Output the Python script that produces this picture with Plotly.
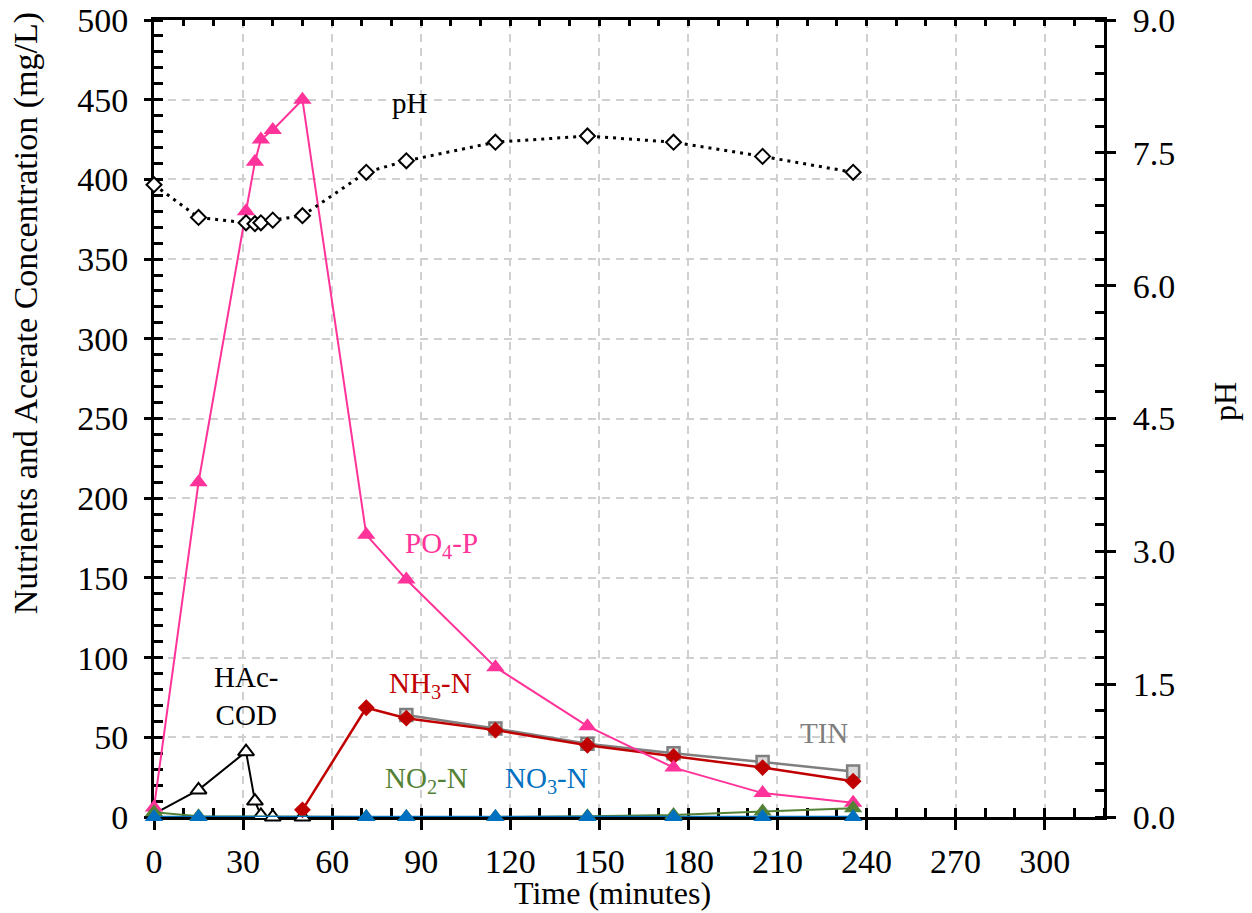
import plotly.graph_objects as go

# ---------------- data ----------------
time_main = [0, 15, 31, 34, 36, 40, 50, 71.5, 85, 115, 146, 175, 205, 235.5]
po4_p = [6, 210, 380, 411, 425, 431, 450, 177, 149, 94, 57, 31, 15, 9]
ph_vals = [7.14, 6.77, 6.71, 6.70, 6.71, 6.74, 6.79, 7.28, 7.41, 7.62, 7.69, 7.62, 7.46, 7.28]

time_hac = [0, 15, 31, 34, 36, 40, 50]
hac_cod = [2, 17, 41, 10, 1, 0, 0]

time_nh3 = [50, 71.5, 85, 115, 146, 175, 205, 235.5]
nh3_n = [4.5, 68.5, 62, 54.5, 45, 38, 31, 22.5]

time_tin = [85, 115, 146, 175, 205, 235.5]
tin = [64, 55.5, 46, 40, 34.5, 28.5]

time_nox = [0, 15, 71.5, 85, 115, 146, 175, 205, 235.5]
no2_n = [3, 0.5, 0, 0, 0, 0.5, 1.2, 3.5, 5.5]
no3_n = [0, 0, 0, 0, 0, 0, 0, 0, 0]

x_ticks = [0, 30, 60, 90, 120, 150, 180, 210, 240, 270, 300]
y_ticks = [0, 50, 100, 150, 200, 250, 300, 350, 400, 450, 500]
ph_ticks = [0.0, 1.5, 3.0, 4.5, 6.0, 7.5, 9.0]

FONT = "Liberation Serif, Times New Roman, serif"
PINK = "#FF3399"
RED = "#C00000"
GRAY = "#7F7F7F"
GREEN = "#548235"
BLUE = "#0070C0"
GRID = "#D0D0D0"

fig = go.Figure()

fig.add_trace(go.Scatter(
    x=time_hac, y=hac_cod, mode="lines+markers", cliponaxis=False,
    line=dict(color="black", width=2),
    marker=dict(symbol="triangle-up", size=14, color="white",
                line=dict(color="black", width=2)),
    showlegend=False))

fig.add_trace(go.Scatter(
    x=time_tin, y=tin, mode="lines+markers", cliponaxis=False,
    line=dict(color=GRAY, width=2.5),
    marker=dict(symbol="square", size=12, color="#D9D9D9",
                line=dict(color=GRAY, width=2.5)),
    showlegend=False))

fig.add_trace(go.Scatter(
    x=time_nh3, y=nh3_n, mode="lines+markers", cliponaxis=False,
    line=dict(color=RED, width=2.5),
    marker=dict(symbol="diamond", size=13, color=RED),
    showlegend=False))

fig.add_trace(go.Scatter(
    x=time_main, y=po4_p, mode="lines+markers", cliponaxis=False,
    line=dict(color=PINK, width=2),
    marker=dict(symbol="triangle-up", size=16, color=PINK),
    showlegend=False))

fig.add_trace(go.Scatter(
    x=time_nox, y=no2_n, mode="lines+markers", cliponaxis=False,
    line=dict(color=GREEN, width=2),
    marker=dict(symbol="triangle-up", size=16, color=GREEN),
    showlegend=False))

fig.add_trace(go.Scatter(
    x=time_nox, y=no3_n, mode="lines+markers", cliponaxis=False,
    line=dict(color=BLUE, width=2.5),
    marker=dict(symbol="triangle-up", size=16, color=BLUE),
    showlegend=False))

fig.add_trace(go.Scatter(
    x=time_main, y=ph_vals, mode="lines+markers", cliponaxis=False,
    yaxis="y2",
    line=dict(color="black", width=3, dash="3px,5px"),
    marker=dict(symbol="diamond", size=11.5, color="white",
                line=dict(color="black", width=2)),
    showlegend=False))

# invisible helper traces so the overlay tick axes render
fig.add_trace(go.Scatter(x=[0], y=[0], xaxis="x2", yaxis="y3", mode="markers",
                         marker=dict(opacity=0), hoverinfo="skip", showlegend=False))
fig.add_trace(go.Scatter(x=[0], y=[0], xaxis="x3", yaxis="y4", mode="markers",
                         marker=dict(opacity=0), hoverinfo="skip", showlegend=False))

tickfont = dict(family=FONT, size=34, color="black")
common = dict(automargin=False, zeroline=False, layer="below traces", tickcolor="black")

# page body has an 8px margin, so the figure is sized/offset to compensate
fig.update_layout(
    width=1244, height=905,
    margin=dict(l=146, r=148, t=12, b=96),
    paper_bgcolor="white", plot_bgcolor="white",
    font=dict(family=FONT, size=29, color="black"),
    xaxis=dict(
        range=[0, 320], tickvals=x_ticks, ticks="outside", ticklen=10, tickwidth=2.5,
        tickfont=tickfont, ticklabelstandoff=2, ticklabeloverflow="allow",
        minor=dict(dtick=10, tick0=0, ticks="inside", ticklen=9, tickwidth=2.5,
                   tickcolor="black", showgrid=False),
        showline=True, linecolor="black", linewidth=3,
        showgrid=True, gridcolor=GRID, gridwidth=1.5, griddash="8px,6px",
        **common,
    ),
    yaxis=dict(
        range=[0, 500], tickvals=y_ticks, ticks="outside", ticklen=7, tickwidth=2.5,
        tickfont=tickfont, ticklabelstandoff=9, ticklabeloverflow="allow",
        minor=dict(dtick=10, tick0=0, ticks="inside", ticklen=9, tickwidth=2.5,
                   tickcolor="black", showgrid=False),
        showline=True, linecolor="black", linewidth=3,
        showgrid=True, gridcolor=GRID, gridwidth=1.5, griddash="8px,6px",
        **common,
    ),
    yaxis2=dict(
        overlaying="y", side="right", anchor="x",
        range=[0, 9], tickvals=ph_ticks, tickformat=".1f", ticks="outside", ticklen=9,
        tickwidth=2.5, tickfont=tickfont, ticklabelstandoff=10, ticklabeloverflow="allow",
        minor=dict(dtick=0.3, tick0=0, ticks="inside", ticklen=9, tickwidth=2.5,
                   tickcolor="black", showgrid=False),
        showline=True, linecolor="black", linewidth=3, showgrid=False,
        **common,
    ),
    xaxis2=dict(
        overlaying="x", side="top", anchor="y3",
        range=[0, 320], dtick=10, tick0=0, ticks="inside", ticklen=6, tickwidth=2.5,
        showticklabels=False, showline=True, linecolor="black", linewidth=3,
        showgrid=False, **common,
    ),
    yaxis3=dict(
        overlaying="y", side="left", anchor="x2",
        range=[0, 500], tickvals=y_ticks, ticks="inside", ticklen=9, tickwidth=2.5,
        showticklabels=False, showline=False, showgrid=False, **common,
    ),
    xaxis3=dict(
        overlaying="x", side="bottom", anchor="y4",
        range=[0, 320], tickvals=x_ticks, ticks="inside", ticklen=9, tickwidth=2.5,
        showticklabels=False, showline=False, showgrid=False, **common,
    ),
    yaxis4=dict(
        overlaying="y", side="right", anchor="x3",
        range=[0, 9], tickvals=ph_ticks, ticks="inside", ticklen=9, tickwidth=2.5,
        showticklabels=False, showline=False, showgrid=False, **common,
    ),
)

# axis titles
fig.add_annotation(text="Time (minutes)", xref="paper", yref="paper", x=0.4826, y=0,
                   yshift=-76, xanchor="center", yanchor="middle", showarrow=False,
                   font=dict(family=FONT, size=32, color="black"))
fig.add_annotation(text="Nutrients and Acerate Concentration (mg/L)", xref="paper",
                   yref="paper", x=0, y=0.632, xshift=-128, textangle=-90,
                   xanchor="center", yanchor="middle", showarrow=False,
                   font=dict(family=FONT, size=34, color="black"))
fig.add_annotation(text="pH", xref="paper", yref="paper", x=1, y=0.5207, xshift=121,
                   textangle=-90, xanchor="center", yanchor="middle", showarrow=False,
                   font=dict(family=FONT, size=32, color="black"))

ann_font = 29
labels = [
    ("pH", 86.3, 448, "black"),
    ("PO<sub>4</sub>-P", 97, 170.6, PINK),
    ("NH<sub>3</sub>-N", 93, 82.8, RED),
    ("HAc-<br>COD", 31, 76.2, "black"),
    ("TIN", 225.6, 52.7, GRAY),
    ("NO<sub>2</sub>-N", 91.7, 23.2, GREEN),
    ("NO<sub>3</sub>-N", 132.3, 23.2, BLUE),
]
for text, xv, yv, col in labels:
    fig.add_annotation(x=xv, y=yv, xref="x", yref="y", text=text, showarrow=False,
                       font=dict(family=FONT, size=ann_font, color=col),
                       xanchor="center", yanchor="middle")

fig.write_html("out.html")
